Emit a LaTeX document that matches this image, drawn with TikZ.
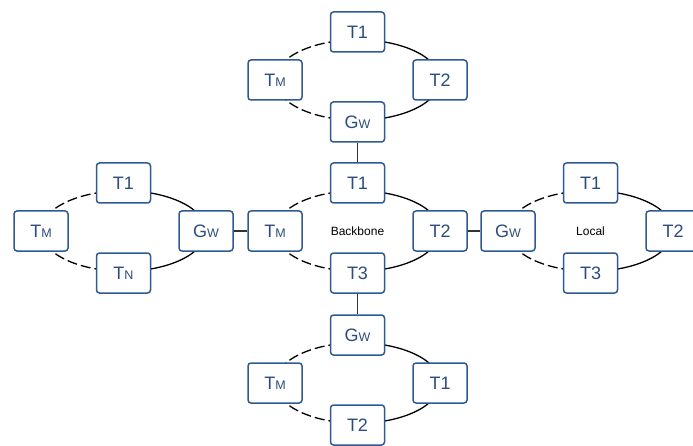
\documentclass[tikz,border=0pt]{standalone}
\usepackage{fontspec}
\setmainfont{Liberation Sans}
\usetikzlibrary{positioning,backgrounds}

\definecolor{boxblue}{HTML}{2F5A93}
\definecolor{textblue}{HTML}{2B4C7E}
\definecolor{linkgray}{HTML}{333333}

\newcommand{\lowcap}[1]{{\fontsize{12.5}{12.5}\selectfont #1}}

\tikzset{
  unit/.style={draw=boxblue, line width=1.5pt, fill=white, rounded corners=3pt,
    minimum width=54pt, minimum height=40pt, inner sep=0pt,
    text=textblue, font=\fontsize{18}{18}\selectfont},
  ringname/.style={font=\fontsize{12}{12}\selectfont, text=black},
  ring/.style={line width=1.3pt, black},
  open ring/.style={ring, dash pattern=on 10pt off 4pt},
  link/.style={line width=1.5pt, linkgray},
}

\begin{document}
\begin{tikzpicture}[x=1pt,y=1pt,on grid,node distance=48pt and 82.5pt]
\useasboundingbox (0,0) rectangle (693,445);

% backbone ring
\node[unit] (bTM) at (275,214) {T\lowcap{M}};
\node[unit] (bT1) [above right=of bTM] {T1};
\node[unit] (bT2) [right=165pt of bTM] {T2};
\node[unit] (bT3) [below right=42pt and 82.5pt of bTM] {T3};
\node[ringname] (bName) [right=82.5pt of bTM] {Backbone};

% upper ring
\node[unit] (tTM) at (275,365) {T\lowcap{M}};
\node[unit] (tT1) [above right=of tTM] {T1};
\node[unit] (tT2) [right=165pt of tTM] {T2};
\node[unit] (tGw) [below right=42pt and 82.5pt of tTM] {G\lowcap{W}};

% left ring
\node[unit] (lTM) at (41,214) {T\lowcap{M}};
\node[unit] (lT1) [above right=of lTM] {T1};
\node[unit] (lGw) [right=165pt of lTM] {G\lowcap{W}};
\node[unit] (lTN) [below right=42pt and 82.5pt of lTM] {T\lowcap{N}};

% local ring
\node[unit] (rGw) at (508,214) {G\lowcap{W}};
\node[unit] (rT1) [above right=of rGw] {T1};
\node[unit] (rT2) [right=165pt of rGw] {T2};
\node[unit] (rT3) [below right=42pt and 82.5pt of rGw] {T3};
\node[ringname] (rName) [right=82.5pt of rGw] {Local};

% lower ring
\node[unit] (dTM) at (275,62) {T\lowcap{M}};
\node[unit] (dGw) [above right=of dTM] {G\lowcap{W}};
\node[unit] (dT1) [right=165pt of dTM] {T1};
\node[unit] (dT2) [below right=42pt and 82.5pt of dTM] {T2};

% rings, behind the boxes
\begin{scope}[on background layer, x radius=83pt, y radius=40.3pt]
  \draw[open ring] (bTM.center) arc[start angle=180,end angle=90] (bTM.center) arc[start angle=180,end angle=270];
  \draw[ring] (bT2.center) arc[start angle=0,end angle=90] (bT2.center) arc[start angle=0,end angle=-90];
  \draw[open ring] (tTM.center) arc[start angle=180,end angle=90] (tTM.center) arc[start angle=180,end angle=270];
  \draw[ring] (tT2.center) arc[start angle=0,end angle=90] (tT2.center) arc[start angle=0,end angle=-90];
  \draw[open ring] (lTM.center) arc[start angle=180,end angle=90] (lTM.center) arc[start angle=180,end angle=270];
  \draw[ring] (lGw.center) arc[start angle=0,end angle=90] (lGw.center) arc[start angle=0,end angle=-90];
  \draw[open ring] (rGw.center) arc[start angle=180,end angle=90] (rGw.center) arc[start angle=180,end angle=270];
  \draw[ring] (rT2.center) arc[start angle=0,end angle=90] (rT2.center) arc[start angle=0,end angle=-90];
  \draw[open ring] (dTM.center) arc[start angle=180,end angle=90] (dTM.center) arc[start angle=180,end angle=270];
  \draw[ring] (dT1.center) arc[start angle=0,end angle=90] (dT1.center) arc[start angle=0,end angle=-90];
\end{scope}

% gateways to the backbone
\draw[link] (tGw) -- (bT1);
\draw[link] (lGw) -- (bTM);
\draw[link] (bT2) -- (rGw);
\draw[link] (bT3) -- (dGw);
\end{tikzpicture}
\end{document}
